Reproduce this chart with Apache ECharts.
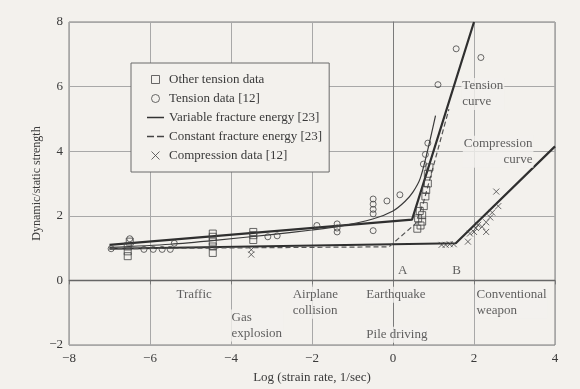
<!DOCTYPE html>
<html>
<head>
<meta charset="utf-8">
<script src="https://cdn.jsdelivr.net/npm/echarts@6/dist/echarts.min.js"></script>
<style>
  html, body { margin: 0; padding: 0; background: #f3f1ed; }
  #chart { width: 580px; height: 389px; }
</style>
</head>
<body>
<div id="chart"></div>
<script>
// values (x = log strain rate, y = dynamic/static strength)
var otherTension = [
  [-6.55, 0.75], [-6.55, 0.9], [-6.55, 1.05], [-6.5, 1.2],
  [-4.45, 0.85], [-4.45, 1.05], [-4.45, 1.2], [-4.45, 1.35], [-4.45, 1.45],
  [-3.45, 1.25], [-3.45, 1.4], [-3.45, 1.5],
  [0.6, 1.6], [0.68, 1.7], [0.72, 1.82], [0.62, 1.92], [0.72, 2.02], [0.66, 2.15],
  [0.76, 2.3], [0.8, 2.6], [0.82, 2.8], [0.86, 3.0], [0.86, 3.3], [0.9, 3.5]
];
var tensionData = [
  [-6.96, 0.98], [-6.5, 1.29], [-6.15, 0.96], [-5.92, 0.96], [-5.7, 0.96], [-5.5, 0.96], [-5.4, 1.15],
  [-3.09, 1.35], [-2.86, 1.38],
  [-1.88, 1.7], [-1.38, 1.5], [-1.38, 1.62], [-1.38, 1.75],
  [-0.49, 1.54], [-0.49, 2.06], [-0.49, 2.2], [-0.49, 2.36], [-0.49, 2.52],
  [-0.15, 2.46], [0.17, 2.65],
  [0.75, 3.6], [0.8, 3.9], [0.86, 4.25],
  [1.11, 6.06], [1.56, 7.17], [2.17, 6.9]
];
var compressionData = [
  [-3.5, 0.95], [-3.5, 0.8],
  [1.2, 1.1], [1.3, 1.1], [1.4, 1.12], [1.5, 1.12], [1.85, 1.2],
  [1.9, 1.45], [2.0, 1.5], [2.05, 1.62], [2.1, 1.72], [2.2, 1.66], [2.3, 1.8],
  [2.3, 1.5], [2.4, 1.95], [2.45, 2.1], [2.6, 2.3], [2.55, 2.75]
];
var tensionCurve = [[-7, 1.1], [0.47, 1.88], [2.0, 8]];
var variableCurve = [
  [-7, 1.02], [-5.5, 1.12], [-4.4, 1.24], [-3, 1.42], [-2, 1.56], [-1.3, 1.68],
  [-0.5, 1.9], [0, 2.15], [0.3, 2.45], [0.5, 2.75], [0.67, 3.15], [0.85, 4.0], [1.05, 5.1]
];
var constantCurve = [[-7, 0.98], [-0.1, 1.04], [0.55, 1.75], [0.75, 2.4], [1.38, 5.3]];
var compressionCurve = [[-7, 0.98], [1.55, 1.15], [4, 4.15]];
var xTicks = [-8, -6, -4, -2, 0, 2, 4];
var yTicks = [-2, 0, 2, 4, 6, 8];
// text notes: [x, y, text, align]
var notes = [
  [-5.36, -0.215, 'Traffic', 'left'],
  [-4.0, -0.92, 'Gas\nexplosion', 'left'],
  [-2.49, -0.215, 'Airplane\ncollision', 'left'],
  [-0.67, -0.215, 'Earthquake', 'left'],
  [-0.67, -1.45, 'Pile driving', 'left'],
  [2.05, -0.215, 'Conventional\nweapon', 'left'],
  [1.7, 6.25, 'Tension\ncurve', 'left'],
  [3.48, 4.46, 'Compression\ncurve', 'right']
];
var points = [[0.25, 0.28, 'A'], [1.58, 0.28, 'B']];

var bg = '#f3f1ed';
var ink = '#3a3a3a';
var font = 'Liberation Serif';
var crossPath = 'path://M0,0L8,8M8,0L0,8';
var squarePath = 'path://M0,0h8v8h-8z';
var solidIcon = 'path://M0,0h17v1.5h-17z';
var dashIcon = 'path://M0,0h7v1.3h-7zM10,0h7v1.3h-7z';

var chart = echarts.init(document.getElementById('chart'));

var noteSeries = notes.map(function(n){
  return {
    type: 'scatter',
    silent: true,
    symbolSize: 1,
    itemStyle: { color: 'rgba(0,0,0,0)' },
    data: [[n[0], n[1]]],
    z: 5,
    label: {
      show: true,
      position: [0, 0],
      align: n[3],
      verticalAlign: 'top',
      formatter: n[2],
      fontFamily: font,
      fontSize: 13,
      lineHeight: 16,
      color: ink,
      backgroundColor: bg,
      padding: [0, 1]
    }
  };
});

var hollow = { color: 'rgba(0,0,0,0)', borderColor: '#444', borderWidth: 1 };

var option = {
  backgroundColor: bg,
  animation: false,
  grid: {
    left: 69, right: 25, top: 22, bottom: 42,
    show: true,
    borderColor: '#7a7a7a',
    borderWidth: 1,
    backgroundColor: 'transparent'
  },
  legend: {
    left: 131,
    top: 63,
    orient: 'vertical',
    padding: [7, 7, 7, 16],
    itemWidth: 17,
    itemHeight: 8,
    itemGap: 0,
    symbolKeepAspect: true,
    borderColor: '#6a6a6a',
    borderWidth: 1,
    backgroundColor: bg,
    textStyle: { fontFamily: font, fontSize: 13, color: ink, lineHeight: 19 },
    data: [
      { name: 'Other tension data', icon: squarePath, itemStyle: hollow },
      { name: 'Tension data [12]', icon: 'circle', itemStyle: hollow },
      { name: 'Variable fracture energy [23]', icon: solidIcon, itemStyle: { color: '#333', borderWidth: 0 }, lineStyle: { width: 0 } },
      { name: 'Constant fracture energy [23]', icon: dashIcon, itemStyle: { color: '#444', borderWidth: 0 }, lineStyle: { width: 0 } },
      { name: 'Compression data [12]', icon: crossPath, itemStyle: hollow }
    ]
  },
  xAxis: {
    type: 'value',
    min: -8, max: 4, interval: 2,
    name: 'Log (strain rate, 1/sec)',
    nameLocation: 'middle',
    nameGap: 26,
    nameTextStyle: { fontFamily: font, fontSize: 13, color: ink },
    axisLine: { lineStyle: { color: '#7a7a7a' } },
    axisTick: { show: true, length: 4, lineStyle: { color: '#7a7a7a' } },
    axisLabel: {
      margin: 7,
      fontFamily: font, fontSize: 13, color: ink,
      formatter: function(v){ return xTicks.indexOf(v) < 0 ? '' : String(v).replace('-', '\u2212'); }
    },
    splitLine: { show: true, lineStyle: { color: '#a8a8a8', width: 1 } }
  },
  yAxis: {
    type: 'value',
    min: -2, max: 8, interval: 2,
    name: 'Dynamic/static strength',
    nameLocation: 'middle',
    nameGap: 26,
    nameMoveOverlap: false,
    nameTextStyle: { fontFamily: font, fontSize: 12, color: ink },
    axisLine: { show: true, lineStyle: { color: '#7a7a7a' } },
    axisTick: { show: false },
    axisLabel: {
      margin: 6,
      fontFamily: font, fontSize: 13, color: ink,
      formatter: function(v){ return yTicks.indexOf(v) < 0 ? '' : String(v).replace('-', '\u2212'); }
    },
    splitLine: { show: true, lineStyle: { color: '#a8a8a8', width: 1 } }
  },
  series: [
    {
      name: 'Variable fracture energy [23]',
      type: 'line',
      symbol: 'none',
      data: tensionCurve,
      itemStyle: { color: '#2f2f2f' },
      lineStyle: { color: '#2f2f2f', width: 2.2 },
      z: 3
    },
    {
      name: 'Variable fracture energy [23]',
      type: 'line',
      symbol: 'none',
      smooth: 0.3,
      data: variableCurve,
      itemStyle: { color: '#3a3a3a' },
      lineStyle: { color: '#3a3a3a', width: 1.2 },
      z: 3
    },
    {
      name: 'Variable fracture energy [23]',
      type: 'line',
      symbol: 'none',
      data: compressionCurve,
      itemStyle: { color: '#2f2f2f' },
      lineStyle: { color: '#2f2f2f', width: 2.2 },
      z: 3
    },
    {
      name: 'Constant fracture energy [23]',
      type: 'line',
      symbol: 'none',
      data: constantCurve,
      itemStyle: { color: '#555' },
      lineStyle: { color: '#555', width: 1.2, type: [5, 3] },
      z: 3
    },
    {
      name: 'Other tension data',
      type: 'scatter',
      symbol: 'rect',
      symbolSize: 7,
      data: otherTension,
      itemStyle: hollow,
      z: 4
    },
    {
      name: 'Tension data [12]',
      type: 'scatter',
      symbol: 'circle',
      symbolSize: 6,
      data: tensionData,
      itemStyle: hollow,
      z: 4
    },
    {
      name: 'Compression data [12]',
      type: 'scatter',
      symbol: crossPath,
      symbolSize: 6,
      data: compressionData,
      itemStyle: hollow,
      z: 4
    },
    {
      type: 'scatter',
      silent: true,
      symbolSize: 1,
      itemStyle: { color: 'rgba(0,0,0,0)' },
      data: points.map(function(p){ return { value: [p[0], p[1]], name: p[2] }; }),
      label: {
        show: true,
        position: [0, 0],
        align: 'center',
        verticalAlign: 'middle',
        formatter: '{b}',
        fontFamily: font, fontSize: 13, color: ink
      },
      markLine: {
        silent: true,
        symbol: 'none',
        label: { show: false },
        lineStyle: { color: '#666', width: 1.4, type: 'solid' },
        data: [{ yAxis: 0 }]
      },
      z: 2
    }
  ].concat(noteSeries)
};

chart.setOption(option);
window.addEventListener('resize', function(){
  chart.resize();
});
</script>
</body>
</html>
